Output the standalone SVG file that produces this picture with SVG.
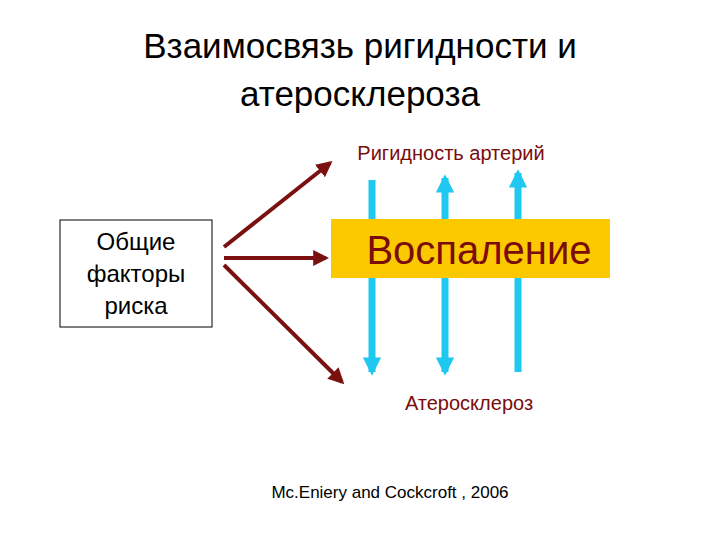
<svg xmlns="http://www.w3.org/2000/svg" width="720" height="540" viewBox="0 0 720 540">
<style>
text{font-family:"Liberation Sans",Arial,sans-serif}
.t{font-size:35px;fill:#000}
.r{fill:#7a0c0c}
.br{stroke:#7a1010;stroke-width:4;fill:none;marker-end:url(#bh)}
.bl{stroke:#1ec8f0;stroke-width:7;fill:none}
</style>
<defs>
<marker id="bh" viewBox="0 0 10 10" refX="8" refY="5" markerWidth="4" markerHeight="4" orient="auto" markerUnits="strokeWidth"><path d="M0,0L10,5L0,10z" fill="#7a1010"/></marker>
<marker id="uh" viewBox="0 0 10 10" refX="8" refY="5" markerWidth="2.6" markerHeight="2.6" orient="auto-start-reverse" markerUnits="strokeWidth"><path d="M0,0L10,5L0,10z" fill="#1ec8f0"/></marker>
</defs>
<g id="title">
<text class="t" x="360" y="58" text-anchor="middle">Взаимосвязь ригидности и</text>
<text class="t" x="360" y="106" text-anchor="middle">атеросклероза</text>
</g>
<g id="connectors">
<line class="bl" x1="372" y1="180" x2="372" y2="372" marker-end="url(#uh)"/>
<line class="bl" x1="445" y1="178" x2="445" y2="372" marker-start="url(#uh)" marker-end="url(#uh)"/>
<line class="bl" x1="518" y1="372" x2="518" y2="173" marker-end="url(#uh)"/>
<line class="br" x1="224" y1="247" x2="330" y2="163"/>
<line class="br" x1="224" y1="258" x2="326" y2="258"/>
<line class="br" x1="224" y1="265" x2="342" y2="382"/>
</g>
<g id="inflammation">
<rect x="331" y="219" width="279" height="59" fill="#fcc800"/>
<text class="r" x="479" y="264" font-size="40" text-anchor="middle">Воспаление</text>
</g>
<g id="risk">
<rect x="60" y="220" width="152" height="107" fill="#fff" stroke="#000" stroke-width="1"/>
<text x="136" y="250" font-size="24" text-anchor="middle">Общие</text>
<text x="136" y="282" font-size="24" text-anchor="middle">факторы</text>
<text x="136" y="314" font-size="24" text-anchor="middle">риска</text>
</g>
<g id="rigidity"><text class="r" x="451" y="160" font-size="20" text-anchor="middle">Ригидность артерий</text></g>
<g id="athero"><text class="r" x="469" y="410" font-size="20" text-anchor="middle">Атеросклероз</text></g>
<g id="ref"><text x="390" y="498" font-size="17" text-anchor="middle">Mc.Eniery and Cockcroft , 2006</text></g>
</svg>
